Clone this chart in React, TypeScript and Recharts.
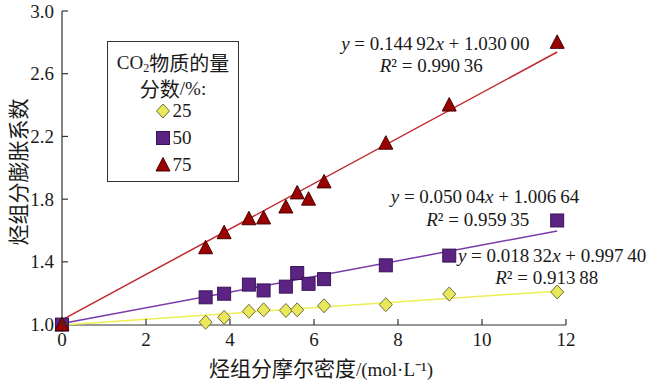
import { ScatterChart, Scatter, XAxis, YAxis, Legend, ReferenceDot } from 'recharts';

// molar density of hydrocarbon component, mol/L
const densities = [0, 3.42, 3.86, 4.45, 4.8, 5.33, 5.6, 5.87, 6.24, 7.71, 9.22, 11.79];
// swelling factor per CO2 fraction (null = no point)
const swell25 = [1.0, 1.015, 1.046, 1.085, 1.094, 1.09, 1.094, null, 1.12, 1.127, 1.195, 1.208];
const swell50 = [1.0, 1.174, 1.197, 1.255, 1.218, 1.242, 1.329, 1.26, 1.29, 1.378, 1.44, 1.664];
const swell75 = [1.0, 1.49, 1.586, 1.675, 1.68, 1.75, 1.84, 1.8, 1.91, 2.157, 2.4, 2.8];

const fractions = ['25', '50', '75'];
const slopes = [0.01832, 0.05004, 0.14492];
const intercepts = [0.9974, 1.00664, 1.03];
const rSquared = [0.91388, 0.95935, 0.99036];

const xTicks = [0, 2, 4, 6, 8, 10, 12];
const yTicks = [1.0, 1.4, 1.8, 2.2, 2.6, 3.0];

const FONT = 'Liberation Serif, serif';
const CJK = 'Noto Sans CJK SC, sans-serif';
const INK = '#1a1a1a';

const colors = [
  { fill: '#e8e85a', stroke: '#6e6e3c', line: '#eeee55' },
  { fill: '#5b2483', stroke: '#3a1458', line: '#7a3aa8' },
  { fill: '#990000', stroke: '#4a0000', line: '#c0282d' },
];

const toPoints = (ys: (number | null)[]) =>
  ys.map((y, i) => ({ x: densities[i], y })).filter((p) => p.y !== null);

const fitLine = (i: number) => {
  const end = densities[densities.length - 1];
  return [
    { x: 0, y: intercepts[i] },
    { x: end, y: slopes[i] * end + intercepts[i] },
  ];
};

const fmt = (v: number) => {
  const s = v.toFixed(5);
  return s.slice(0, -2) + '\u2009' + s.slice(-2);
};

const Diamond = ({ cx, cy }: any) => (
  <polygon
    points={`${cx},${cy - 7} ${cx + 6.5},${cy} ${cx},${cy + 7} ${cx - 6.5},${cy}`}
    fill={colors[0].fill}
    stroke={colors[0].stroke}
    strokeWidth={1}
  />
);
const Square = ({ cx, cy }: any) => (
  <rect x={cx - 6.5} y={cy - 6.5} width={13} height={13} fill={colors[1].fill} stroke={colors[1].stroke} strokeWidth={1} />
);
const Triangle = ({ cx, cy }: any) => (
  <polygon
    points={`${cx},${cy - 7.5} ${cx + 7},${cy + 6} ${cx - 7},${cy + 6}`}
    fill={colors[2].fill}
    stroke={colors[2].stroke}
    strokeWidth={1}
  />
);
const shapes = [Diamond, Square, Triangle];
const NoDot = () => <g />;

const series = [swell25, swell50, swell75];

const YTick = ({ x, y, payload }: any) => (
  <g>
    <line x1={x + 6} x2={x + 12} y1={y} y2={y} stroke="#333" strokeWidth={1.2} />
    <text x={x - 2} y={y + 6.5} textAnchor="end" fontSize={19} fontFamily={FONT} fill={INK}>
      {payload.value.toFixed(1)}
    </text>
  </g>
);

const XTick = ({ x, y, payload }: any) => (
  <g>
    <line x1={x} x2={x} y1={y - 4} y2={y - 10} stroke="#333" strokeWidth={1.2} />
    <text x={x} y={y + 17} textAnchor="middle" fontSize={19} fontFamily={FONT} fill={INK}>
      {payload.value}
    </text>
  </g>
);

const Equation = ({ cx, cy, i }: any) => (
  <text x={cx} y={cy} textAnchor="middle" fontSize={19} fontFamily={FONT} fill={INK}>
    <tspan fontStyle="italic">y</tspan>
    {' = ' + fmt(slopes[i])}
    <tspan fontStyle="italic">x</tspan>
    {' + ' + fmt(intercepts[i])}
  </text>
);

const RSq = ({ cx, cy, i }: any) => (
  <text x={cx} y={cy} textAnchor="middle" fontSize={19} fontFamily={FONT} fill={INK}>
    <tspan fontStyle="italic">R</tspan>
    {'² = ' + fmt(rSquared[i])}
  </text>
);

// centre of each legend line, measured from the top of the box
const legendRows = [21, 47, 69, 96, 123];

const LegendBox = () => {
  const row = (k: number): any => ({
    position: 'absolute',
    left: 0,
    right: 0,
    top: legendRows[k] - 11,
    height: 22,
    lineHeight: '22px',
    display: 'flex',
    alignItems: 'center',
    justifyContent: 'center',
  });
  return (
    <div
      style={{
        position: 'relative',
        width: '100%',
        height: '100%',
        boxSizing: 'border-box',
        border: '1.5px solid #333',
        background: '#fff',
        fontFamily: FONT,
        fontSize: 19,
        color: INK,
      }}
    >
      <div style={row(0)}>
        <span>CO</span>
        <span style={{ fontSize: 12, position: 'relative', top: 5 }}>2</span>
        <span style={{ fontFamily: CJK, fontSize: 20 }}>物质的量</span>
      </div>
      <div style={row(1)}>
        <span style={{ fontFamily: CJK, fontSize: 20 }}>分数</span>
        <span>/%:</span>
      </div>
      {fractions.map((f, i) => {
        const S = shapes[i];
        return (
          <div key={f} style={row(i + 2)}>
            <svg width={16} height={16} style={{ marginRight: 2 }}>
              <S cx={8} cy={8} />
            </svg>
            <span>{f}</span>
          </div>
        );
      })}
    </div>
  );
};

export default function App() {
  return (
    <div style={{ position: 'absolute', left: 0, top: 0, width: 650, height: 386, background: '#fff' }}>
      <ScatterChart width={650} height={386} margin={{ top: 11, right: 84, bottom: 0, left: 0 }}>
        <XAxis
          type="number"
          dataKey="x"
          domain={[0, 12]}
          ticks={xTicks}
          height={61}
          tickSize={0}
          tickMargin={4}
          tick={<XTick />}
          axisLine={{ stroke: '#333', strokeWidth: 1.2 }}
          label={{
            content: ({ viewBox }: any) => (
              <text
                x={viewBox.x + viewBox.width / 2 + 7}
                y={viewBox.y + 51}
                textAnchor="middle"
                fontSize={19}
                fontFamily={FONT}
                fill={INK}
              >
                <tspan fontFamily={CJK} fontSize={21}>烃组分摩尔密度</tspan>
                /(mol·L⁻¹)
              </text>
            ),
          }}
        />
        <YAxis
          type="number"
          dataKey="y"
          domain={[1, 3]}
          ticks={yTicks}
          width={62}
          tickSize={0}
          tickMargin={6}
          tick={<YTick />}
          axisLine={{ stroke: '#333', strokeWidth: 1.2 }}
          label={{
            content: ({ viewBox }: any) => {
              const cx = viewBox.x + 17;
              const cy = viewBox.y + viewBox.height / 2 + 4;
              return (
                <text
                  x={cx}
                  y={cy}
                  transform={`rotate(-90 ${cx} ${cy})`}
                  textAnchor="middle"
                  dominantBaseline="central"
                  fontSize={21}
                  fontFamily={CJK}
                  fill={INK}
                >
                  烃组分膨胀系数
                </text>
              );
            },
          }}
        />
        <Legend
          layout="vertical"
          align="center"
          verticalAlign="middle"
          wrapperStyle={{ left: 107, top: 41, width: 132, height: 141 }}
          content={() => <LegendBox />}
        />
        {fractions.map((f, i) => (
          <Scatter
            key={'fit' + f}
            data={fitLine(i)}
            line={{ stroke: colors[i].line, strokeWidth: 1.5 }}
            lineType="joint"
            shape={NoDot}
            legendType="none"
            isAnimationActive={false}
          />
        ))}
        {fractions.map((f, i) => (
          <Scatter
            key={f}
            name={f}
            data={toPoints(series[i])}
            shape={shapes[i]}
            isAnimationActive={false}
          />
        ))}
        <ReferenceDot x={8.89} y={2.75} r={0} shape={(p: any) => <Equation {...p} i={2} />} />
        <ReferenceDot x={8.79} y={2.61} r={0} shape={(p: any) => <RSq {...p} i={2} />} />
        <ReferenceDot x={10.07} y={1.777} r={0} shape={(p: any) => <Equation {...p} i={1} />} />
        <ReferenceDot x={9.9} y={1.631} r={0} shape={(p: any) => <RSq {...p} i={1} />} />
        <ReferenceDot x={11.67} y={1.401} r={0} shape={(p: any) => <Equation {...p} i={0} />} />
        <ReferenceDot x={11.54} y={1.261} r={0} shape={(p: any) => <RSq {...p} i={0} />} />
      </ScatterChart>
    </div>
  );
}
